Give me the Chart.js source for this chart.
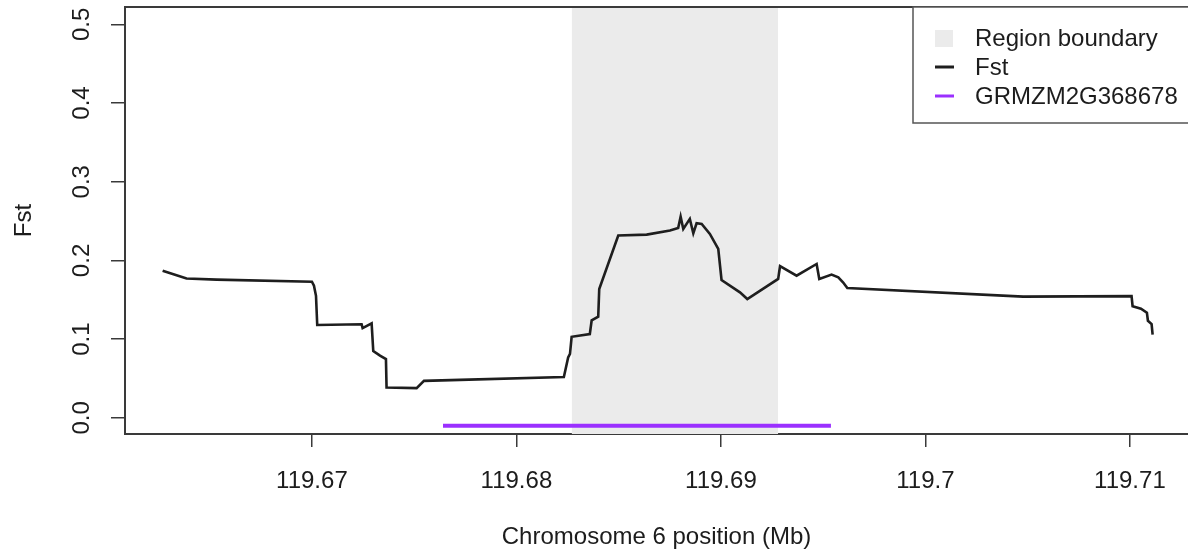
<!DOCTYPE html>
<html>
<head>
<meta charset="utf-8">
<script src="https://cdn.jsdelivr.net/npm/chart.js@4/dist/chart.umd.min.js"></script>
<style>
  html, body { margin: 0; padding: 0; background: #ffffff; }
  canvas { display: block; }
</style>
</head>
<body>
<canvas id="fstChart" width="1188" height="554" style="width:1188px;height:554px"></canvas>
<script>
// Fst scan along chromosome 6 (positions in Mb)
const fstPos = [
  119.6627, 119.66387, 119.66534, 119.67000, 119.67010, 119.67020, 119.67026,
  119.67243, 119.67248, 119.67292, 119.67300, 119.67333, 119.67362, 119.67365,
  119.67512, 119.67548, 119.67724, 119.68232, 119.68253, 119.68262, 119.68270,
  119.68359, 119.68368, 119.68400, 119.68405, 119.68498, 119.68637, 119.68751,
  119.68791, 119.68803, 119.68816, 119.68848, 119.68865, 119.68881, 119.68906,
  119.68946, 119.68987, 119.69003, 119.69093, 119.69129, 119.69280, 119.69289,
  119.69370, 119.69468, 119.69481, 119.69541, 119.69574, 119.69598, 119.69618,
  119.70478, 119.71008, 119.71013, 119.71054, 119.71083, 119.71088, 119.71106,
  119.71111
];
const fstVal = [
  0.187, 0.177, 0.1756, 0.173, 0.168, 0.155, 0.118,
  0.119, 0.114, 0.120, 0.085, 0.079, 0.0747, 0.0386,
  0.0378, 0.047, 0.0483, 0.052, 0.0767, 0.0814, 0.103,
  0.1065, 0.124, 0.1285, 0.1637, 0.2316, 0.2328, 0.238,
  0.2413, 0.2557, 0.240, 0.2528, 0.2345, 0.2472, 0.2464,
  0.2337, 0.2146, 0.1752, 0.1594, 0.151, 0.1765, 0.1927,
  0.1807, 0.1955, 0.1765, 0.182, 0.1785, 0.172, 0.165,
  0.154, 0.1546, 0.1419, 0.1387, 0.1336, 0.1234, 0.1192,
  0.1056
];

// Candidate region and gene model
const regionStart = 119.6827;
const regionEnd = 119.6928;
const geneName = 'GRMZM2G368678';
const geneStart = 119.67641;
const geneEnd = 119.69538;
const geneLevel = -0.01;

// Axis ticks
const xTicks = [119.67, 119.68, 119.69, 119.70, 119.71];
const xTickLabels = ['119.67', '119.68', '119.69', '119.7', '119.71'];
const yTicks = [0.0, 0.1, 0.2, 0.3, 0.4, 0.5];
const yTickLabels = ['0.0', '0.1', '0.2', '0.3', '0.4', '0.5'];

const X_MIN = 119.66086, X_MAX = 119.71284;
const Y_MIN = -0.0205, Y_MAX = 0.522;

const FONT = '"Liberation Sans", Arial, Helvetica, sans-serif';
const TEXT = '#1c1c1c';
const AXIS = '#3a3a3a';

Chart.defaults.font.family = FONT;
Chart.defaults.font.size = 24;
Chart.defaults.color = TEXT;

// Box, rotated y tick labels and legend
const frameAndLegend = {
  id: 'frameAndLegend',
  afterDraw(chart) {
    const ctx = chart.ctx;
    const area = chart.chartArea;
    const ys = chart.scales.y;

    ctx.save();
    // top edge of the plot box
    ctx.strokeStyle = AXIS;
    ctx.lineWidth = 2;
    ctx.beginPath();
    ctx.moveTo(area.left, area.top);
    ctx.lineTo(chart.width, area.top);
    ctx.stroke();

    // y tick labels, written bottom-to-top
    ctx.fillStyle = TEXT;
    ctx.font = '24px ' + FONT;
    ctx.textAlign = 'center';
    ctx.textBaseline = 'middle';
    ys.ticks.forEach((t, i) => {
      const py = ys.getPixelForValue(t.value);
      ctx.save();
      ctx.translate(82, py);
      ctx.rotate(-Math.PI / 2);
      ctx.fillText(yTickLabels[i], 0, 0);
      ctx.restore();
    });

    // legend box in the top-right corner
    const bx = 913, by = area.top, bw = chart.width - bx + 10, bh = 116;
    ctx.fillStyle = '#ffffff';
    ctx.fillRect(bx, by, bw, bh);
    ctx.strokeStyle = '#555555';
    ctx.lineWidth = 1.5;
    ctx.strokeRect(bx, by, bw, bh);

    const ds = chart.data.datasets;
    const rows = [
      { ds: ds[0], y: 38, kind: 'box' },
      { ds: ds[1], y: 67, kind: 'line' },
      { ds: ds[2], y: 96, kind: 'line' }
    ];
    rows.forEach(r => {
      if (r.kind === 'box') {
        ctx.fillStyle = r.ds.backgroundColor;
        ctx.fillRect(935, r.y - 8, 18, 17);
      } else {
        ctx.strokeStyle = r.ds.borderColor;
        ctx.lineWidth = 3;
        ctx.beginPath();
        ctx.moveTo(935, r.y);
        ctx.lineTo(954, r.y);
        ctx.stroke();
      }
      ctx.fillStyle = TEXT;
      ctx.textAlign = 'left';
      ctx.textBaseline = 'middle';
      ctx.fillText(r.ds.label, 975, r.y + 1);
    });
    ctx.restore();
  }
};

new Chart(document.getElementById('fstChart'), {
  type: 'line',
  data: {
    datasets: [
      {
        label: 'Region boundary',
        data: [{ x: regionStart, y: Y_MAX }, { x: regionEnd, y: Y_MAX }],
        backgroundColor: '#ebebeb',
        borderColor: 'rgba(0,0,0,0)',
        borderWidth: 0,
        pointRadius: 0,
        fill: 'start',
        order: 3
      },
      {
        label: 'Fst',
        data: fstPos.map((p, i) => ({ x: p, y: fstVal[i] })),
        borderColor: '#1e1e1e',
        borderWidth: 2.6,
        pointRadius: 0,
        tension: 0,
        fill: false,
        borderJoinStyle: 'miter',
        order: 1
      },
      {
        label: geneName,
        data: [{ x: geneStart, y: geneLevel }, { x: geneEnd, y: geneLevel }],
        borderColor: '#9b30ff',
        borderWidth: 4,
        pointRadius: 0,
        fill: false,
        order: 2
      }
    ]
  },
  options: {
    responsive: false,
    animation: false,
    devicePixelRatio: 1,
    layout: { padding: { top: 7, right: 0, bottom: 0, left: 0 } },
    plugins: {
      legend: { display: false },
      tooltip: { enabled: false }
    },
    scales: {
      x: {
        type: 'linear',
        min: X_MIN,
        max: X_MAX,
        afterBuildTicks: s => { s.ticks = xTicks.map(v => ({ value: v })); },
        afterFit: s => { s.height = 120; },
        ticks: {
          autoSkip: false,
          maxRotation: 0,
          minRotation: 0,
          padding: 20,
          color: TEXT,
          font: { size: 24 },
          callback: (v, i) => xTickLabels[i]
        },
        grid: { drawOnChartArea: false, drawTicks: true, tickLength: 13, color: AXIS, lineWidth: 1.5 },
        border: { display: true, color: AXIS, width: 2 },
        title: {
          display: true,
          text: 'Chromosome 6 position (Mb)',
          color: TEXT,
          font: { size: 24 },
          padding: { top: 0, bottom: 2 }
        }
      },
      y: {
        type: 'linear',
        min: Y_MIN,
        max: Y_MAX,
        afterBuildTicks: s => { s.ticks = yTicks.map(v => ({ value: v })); },
        afterFit: s => { s.width = 125; },
        ticks: { display: false },
        grid: { drawOnChartArea: false, drawTicks: true, tickLength: 14, color: AXIS, lineWidth: 1.5 },
        border: { display: true, color: AXIS, width: 2 },
        title: {
          display: true,
          text: 'Fst',
          color: TEXT,
          font: { size: 24 },
          padding: { top: 10, bottom: 0 }
        }
      }
    }
  },
  plugins: [frameAndLegend]
});
</script>
</body>
</html>
